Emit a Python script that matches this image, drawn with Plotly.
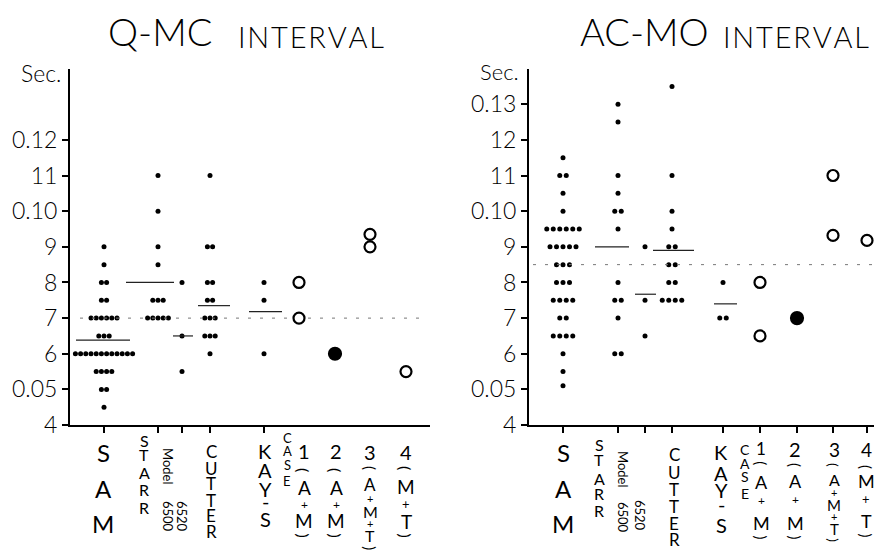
import plotly.graph_objects as go

W, H = 882, 559
FONT = "Lato"
WT = 300

# ---------------- DATA (seconds) ----------------
# Q-MC interval
qmc_sam = [0.090, 0.085, 0.080, 0.080, 0.075, 0.075,
           0.070, 0.070, 0.070, 0.070, 0.070, 0.070,
           0.065, 0.065, 0.065,
           0.060, 0.060, 0.060, 0.060, 0.060, 0.060, 0.060, 0.060, 0.060, 0.060, 0.060, 0.060,
           0.055, 0.055, 0.055, 0.055, 0.050, 0.050, 0.045]
qmc_starr = [0.110, 0.100, 0.090, 0.085, 0.075, 0.075, 0.075,
             0.070, 0.070, 0.070, 0.070, 0.070]
qmc_6520 = [0.080, 0.065, 0.055]
qmc_cutter = [0.110, 0.090, 0.090, 0.080, 0.080, 0.075, 0.075,
              0.070, 0.070, 0.070, 0.065, 0.065, 0.065, 0.060]
qmc_kays = [0.080, 0.075, 0.060]
qmc_case1 = [0.080, 0.070]
qmc_case2 = [0.060]
qmc_case3 = [0.0935, 0.090]
qmc_case4 = [0.055]
qmc_means = [0.0638, 0.080, 0.065, 0.0735, 0.0718]
qmc_ref = 0.070

# AC-MO interval
acmo_sam = [0.115, 0.110, 0.110, 0.105, 0.100,
            0.095, 0.095, 0.095, 0.095, 0.095, 0.095,
            0.090, 0.090, 0.090, 0.090, 0.090,
            0.085, 0.085, 0.085, 0.080, 0.080, 0.080,
            0.075, 0.075, 0.075, 0.075, 0.070, 0.070,
            0.065, 0.065, 0.065, 0.065, 0.060, 0.055, 0.051]
acmo_starr = [0.130, 0.125, 0.110, 0.105, 0.100, 0.100, 0.095,
              0.080, 0.075, 0.075, 0.070, 0.060, 0.060]
acmo_6520 = [0.090, 0.075, 0.065]
acmo_cutter = [0.135, 0.110, 0.100, 0.095, 0.090, 0.090, 0.085, 0.085,
               0.080, 0.080, 0.075, 0.075, 0.075, 0.075]
acmo_kays = [0.080, 0.070, 0.070]
acmo_case1 = [0.080, 0.065]
acmo_case2 = [0.070]
acmo_case3 = [0.110, 0.0932]
acmo_case4 = [0.0918]
acmo_means = [None, 0.090, 0.0767, 0.089, 0.074]
acmo_ref = 0.085

qmc_ticks = [0.04, 0.05, 0.06, 0.07, 0.08, 0.09, 0.10, 0.11, 0.12]
qmc_ticklabels = ["4", "0.05", "6", "7", "8", "9", "0.10", "11", "0.12"]
acmo_ticks = [0.04, 0.05, 0.06, 0.07, 0.08, 0.09, 0.10, 0.11, 0.12, 0.13]
acmo_ticklabels = ["4", "0.05", "6", "7", "8", "9", "0.10", "11", "12", "0.13"]

# ---------------- LAYOUT SETTINGS ----------------
left_pos = [34, 88, 112, 140, 194, 229, 265, 300, 336]
right_pos = [34, 89, 116, 143, 194, 231, 268, 304, 338]
left_mean_ext = [(6, 60), (56, 104), (103, 123), (128, 160), (179, 212)]
right_mean_ext = [None, (66, 100), (106, 127), (124, 165), (185, 208)]
left_ref_ext = (10, 358)
right_ref_ext = (4, 361)
case_filled = [False, True, False, False]

AX_L = (62, 422)
AX_R = (521, 882)
Y_BOT, Y_TOP = 427, 62


def px_x(x):
    return x / W


def px_y(y):
    return 1 - y / H


def swarm(values, center, step):
    groups = {}
    for v in values:
        groups.setdefault(round(v, 4), []).append(v)
    xs, ys = [], []
    for v, g in groups.items():
        n = len(g)
        for i in range(n):
            xs.append(center + (i - (n - 1) / 2) * step)
            ys.append(v)
    return xs, ys


fig = go.Figure()


def add_panel(cols, cases, means, mean_ext, ref, ref_ext, pos, step, xa, ya):
    sx, sy = [], []
    for vals, c in zip(cols, pos[:5]):
        x, y = swarm(vals, c, step)
        sx += x
        sy += y
    fig.add_trace(go.Scatter(x=sx, y=sy, mode="markers", xaxis=xa, yaxis=ya,
                             marker=dict(size=5, color="black", line=dict(width=0)),
                             showlegend=False, hoverinfo="skip"))
    fig.add_trace(go.Scatter(x=list(ref_ext), y=[ref, ref], mode="lines", xaxis=xa, yaxis=ya,
                             line=dict(color="#777", width=1, dash="3px,9px"),
                             showlegend=False, hoverinfo="skip"))
    for m, e in zip(means, mean_ext):
        if m is None or e is None:
            continue
        fig.add_trace(go.Scatter(x=list(e), y=[m, m], mode="lines", xaxis=xa, yaxis=ya,
                                 line=dict(color="#222", width=1.2),
                                 showlegend=False, hoverinfo="skip"))
    for vals, c, filled in zip(cases, pos[5:], case_filled):
        fig.add_trace(go.Scatter(x=[c] * len(vals), y=vals, mode="markers", xaxis=xa, yaxis=ya,
                                 marker=dict(size=11 if not filled else 12,
                                             color="black" if filled else "white",
                                             line=dict(color="black", width=2.2)),
                                 showlegend=False, hoverinfo="skip"))


add_panel([qmc_sam, qmc_starr, qmc_6520, qmc_cutter, qmc_kays],
          [qmc_case1, qmc_case2, qmc_case3, qmc_case4],
          qmc_means, left_mean_ext, qmc_ref, left_ref_ext, left_pos, 5.2, "x", "y")
add_panel([acmo_sam, acmo_starr, acmo_6520, acmo_cutter, acmo_kays],
          [acmo_case1, acmo_case2, acmo_case3, acmo_case4],
          acmo_means, right_mean_ext, acmo_ref, right_ref_ext, right_pos, 6.5, "x2", "y2")

tickfont = dict(family=FONT, size=23, color="black", weight=WT)
common_x = dict(showline=True, linewidth=2, linecolor="black", ticks="outside", ticklen=6,
                tickwidth=1.5, tickcolor="black", showgrid=False, zeroline=False,
                showticklabels=False)
common_y = dict(showline=True, linewidth=2, linecolor="black", ticks="outside", ticklen=6,
                tickwidth=1.5, tickcolor="black", showgrid=False, zeroline=False,
                range=[0.04, 0.14], tickfont=tickfont, ticklabelstandoff=0)

fig.update_layout(
    width=W, height=H, margin=dict(l=0, r=0, t=0, b=0),
    paper_bgcolor="white", plot_bgcolor="white",
    xaxis=dict(domain=[px_x(AX_L[0]), px_x(AX_L[1])], range=[0, AX_L[1] - AX_L[0]],
               tickvals=left_pos[:5], anchor="y", **common_x),
    yaxis=dict(domain=[px_y(Y_BOT), px_y(Y_TOP)], tickvals=qmc_ticks, ticktext=qmc_ticklabels,
               anchor="x", **common_y),
    xaxis2=dict(domain=[px_x(AX_R[0]), 1.0], range=[0, AX_R[1] - AX_R[0]],
                tickvals=right_pos, anchor="y2", **common_x),
    yaxis2=dict(domain=[px_y(Y_BOT), px_y(Y_TOP)], tickvals=acmo_ticks, ticktext=acmo_ticklabels,
                anchor="x2", **common_y),
)

ann = []


def text(x, y, s, size, angle=0, xanchor="center", weight=400):
    ann.append(dict(x=px_x(x), y=px_y(y), xref="paper", yref="paper", text=s, showarrow=False,
                    xanchor=xanchor, yanchor="middle", textangle=angle, borderpad=0,
                    font=dict(family=FONT, size=size, color="black", weight=weight)))


def stack(x, ys, chars, sizes):
    if not isinstance(sizes, list):
        sizes = [sizes] * len(chars)
    for y, ch, sz in zip(ys, chars, sizes):
        if ch in "()":
            text(x, y, ch, sz, angle=90)
        else:
            text(x, y, ch, sz)


HS = "\u200a"
interval = HS.join("INTERVAL")
# titles
text(152, 24, "Q-MC", 38, weight=300)
text(303, 29, interval, 29, weight=300)
text(636, 24, "AC-MO", 38, weight=300)
text(788, 29, interval, 29, weight=300)
text(33, 67, "Sec.", 23, weight=300)
text(491, 65, "Sec.", 22, weight=300)

# left labels
stack(95, [455, 492, 528], "SAM", 24)
stack(136, [443, 457, 476, 493, 511], "STARR", 16)
text(160, 469, "Model", 13, angle=90)
text(160, 520, "6500", 13, angle=90)
text(174, 520, "6520", 13, angle=90)
stack(203, [454, 471, 487, 504, 520, 536], "CUTTER", 17)
stack(257, [454, 473, 492, 505, 523], "KAY-S", 20)
stack(279, [440, 454, 468, 484], "CASE", 13)
stack(296, [454, 473, 491, 508, 525, 540], "1(A+M)", [20, 16, 19, 12, 19, 16])
stack(328, [454, 473, 491, 508, 525, 540], "2(A+M)", [20, 16, 19, 12, 19, 16])
stack(362, [455, 471, 488, 502, 515, 528, 540, 553], "3(A+M+T)", [20, 15, 17, 11, 16, 11, 16, 15])
stack(398, [455, 471, 490, 508, 526, 540], "4(M+T)", [20, 16, 19, 13, 19, 16])

# right labels
stack(555, [455, 492, 528], "SAM", 24)
stack(591, [447, 462, 482, 497, 514], "STARR", 16)
text(615, 472, "Model", 13, angle=90)
text(615, 521, "6500", 13, angle=90)
text(632, 519, "6520", 13, angle=90)
stack(666, [457, 476, 493, 510, 528, 544], "CUTTER", 17)
stack(713, [455, 476, 493, 508, 529], "KAY-S", 20)
stack(737, [452, 466, 480, 497], "CASE", 14)
stack(753, [451, 466, 485, 504, 527, 542], "1(A+M)", [17, 15, 18, 12, 18, 15])
stack(787, [452, 468, 484, 503, 527, 542], "2(A+M)", [20, 15, 18, 12, 18, 15])
stack(826, [452, 468, 483, 496, 509, 521, 533, 545], "3(A+M+T)", [19, 14, 16, 11, 15, 11, 15, 14])
stack(858, [452, 470, 484, 503, 525, 540], "4(M+T)", [19, 15, 18, 13, 18, 15])

fig.update_layout(annotations=ann)
fig.write_html("out.html")
